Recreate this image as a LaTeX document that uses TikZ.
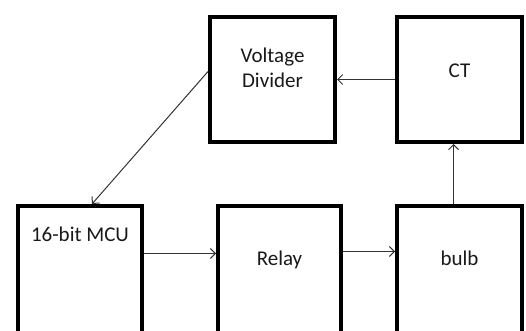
\documentclass[tikz,border=0pt]{standalone}
\usepackage{fontspec}
\setmainfont{Carlito}
\usetikzlibrary{arrows.meta,positioning}
\begin{document}
\begin{tikzpicture}[node distance=58pt, box/.style={draw, line width=4pt, minimum width=125pt, minimum height=125pt, inner sep=0pt}, lowbox/.style={box, minimum height=140pt}, txt/.style={font=\fontsize{21}{25}\selectfont, text=black!90, align=center}, link/.style={->, line width=1pt, draw=black!80}, >={Straight Barb[length=5pt,width=10pt]}]
\useasboundingbox (0,0) rectangle (526pt,-331pt);
\clip (0,0) rectangle (526pt,-331pt);
\node[box, label={[txt,yshift=12pt]center:Voltage\\Divider}] (vd) at (272.5pt,-79.5pt) {};
\node[box, label={[txt,yshift=8.5pt]center:CT}] (ct) [right=of vd] {};
\node[lowbox, label={[txt,yshift=17.5pt]center:bulb}] (bulb) [below=60pt of ct] {};
\node[lowbox, minimum width=123pt, label={[txt,yshift=16pt]center:Relay}] (relay) [left=52pt of bulb] {};
\node[lowbox, minimum width=124pt, label={[txt,yshift=41.5pt]center:16-bit MCU}] (mcu) [left=72pt of relay] {};
\draw[link] (ct) -- (vd);
\draw[link] ([yshift=8pt]vd.west) -- ([xshift=12pt]mcu.north);
\draw[link] ([yshift=22.5pt]mcu.east) -- ([yshift=22.5pt]mcu.east -| relay.west);
\draw[link] ([yshift=24.5pt]relay.east) -- ([yshift=24.5pt]relay.east -| bulb.west);
\draw[link] ([xshift=-6pt]bulb.north) -- ([xshift=-6pt]ct.south);
\end{tikzpicture}
\end{document}
